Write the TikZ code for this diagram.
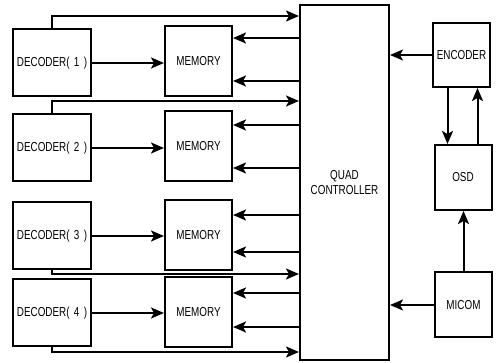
\documentclass[tikz,border=0pt]{standalone}
\usepackage{fontspec}
\newfontfamily\blockfont{Liberation Sans}[FakeStretch=0.76]
\usetikzlibrary{arrows.meta}
\tikzset{
    blk/.style = {draw, line width = 2pt, inner sep = 0pt, minimum width = 78pt, minimum height = 67pt,
        font = \blockfont\fontsize{13}{15.5}\selectfont},
    memblk/.style = {blk, minimum width = 67pt, minimum height = 70pt},
    sideblk/.style = {blk, minimum width = 57pt, minimum height = 65pt}
}
\begin{document}
\begin{tikzpicture}[x = 1pt, y = -1pt, line width = 2pt,
        > = {Stealth[length = 13pt, width = 11pt, inset = 3pt]}]
        \useasboundingbox (0,0) rectangle (501,363);
        \node[blk, minimum width = 89pt, minimum height = 355pt, align = center] (ctrl) at (344.5,182.5) {QUAD\\CONTROLLER};
        \foreach \n/\dy/\my/\ya/\yb/\fy/\anc in {1/63/61/38/81/16/north, 2/148/146/125/168/101/north,
                3/236/235/215/252/274/south, 4/313/312/293/327/352/south} {
            \node[blk] (dec\n) at (52,\dy) {DECODER(\,\,\n\,\,)};
            \node[memblk] (mem\n) at (198.5,\my) {MEMORY};
            \coordinate (tapa\n) at (0,\ya);
            \coordinate (tapb\n) at (0,\yb);
            \coordinate (feed\n) at (0,\fy);
            \draw[->] (dec\n.east) -- (dec\n.east -| mem\n.west);
            \draw[->] (tapa\n -| ctrl.west) -- (tapa\n -| mem\n.east);
            \draw[->] (tapb\n -| ctrl.west) -- (tapb\n -| mem\n.east);
            \draw[->] (dec\n.\anc) |- (feed\n -| ctrl.west);
        }
        \node[sideblk, minimum height = 64pt] (enc) at (461.5,55) {ENCODER};
        \node[sideblk] (osd) at (463,177.5) {OSD};
        \node[sideblk] (micom) at (463.5,305) {MICOM};
        \draw[->] (enc.west) -- (enc.west -| ctrl.east);
        \draw[->] (micom.west) -- (micom.west -| ctrl.east);
        \draw[->] ([xshift = -14pt]enc.south) -- ([xshift = -14pt]enc.south |- osd.north);
        \draw[->] ([xshift = 16pt]enc.south |- osd.north) -- ([xshift = 16pt]enc.south);
        \draw[->] (micom.north) -- (micom.north |- osd.south);
    \end{tikzpicture}
\end{document}
